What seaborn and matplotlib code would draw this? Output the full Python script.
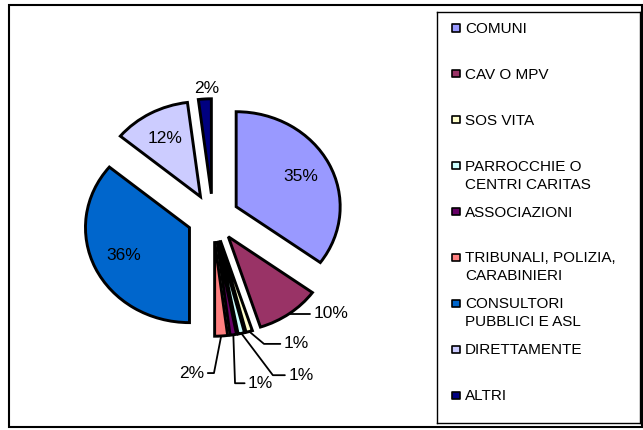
import numpy as np
import matplotlib
matplotlib.use('Agg')
import matplotlib.pyplot as plt
from matplotlib.patches import Rectangle
import seaborn as sns

# dati
categorie = ['COMUNI', 'CAV O MPV', 'SOS VITA', 'PARROCCHIE O\nCENTRI CARITAS', 'ASSOCIAZIONI',
             'TRIBUNALI, POLIZIA,\nCARABINIERI', 'CONSULTORI\nPUBBLICI E ASL', 'DIRETTAMENTE', 'ALTRI']
percentuali = [35, 10, 1, 1, 1, 2, 36, 12, 2]
colori = ['#9999FF', '#993366', '#FFFFCC', '#CCFFFF', '#660066',
          '#FF8080', '#0066CC', '#CCCCFF', '#000080']

sns.set_theme(style='white')
plt.rcParams['font.family'] = ['Liberation Sans', 'DejaVu Sans']
palette = sns.color_palette(colori)

W, H = 643, 430
fig = plt.figure(figsize=(W / 100, H / 100), dpi=100)

# cornice esterna
fig.patches.append(Rectangle((9 / W, 3 / H), 633 / W, 422 / H, transform=fig.transFigure,
                             fill=False, edgecolor='black', linewidth=1.5))

# torta esplosa
ax = fig.add_axes([5 / W, 3.5 / H, 416 / W, 418 / H])
wedges, _ = ax.pie(percentuali, colors=palette, startangle=90, counterclock=False,
                   explode=[0.25] * len(percentuali),
                   wedgeprops=dict(edgecolor='black', linewidth=2.1))
ax.set_aspect('auto')
ax.set_xlim(-2, 2)
ax.set_ylim(-2.2, 2.2)
ax.axis('off')

# etichette: interne per le fette grandi, esterne (con linea guida) per le altre
interni = [0, 6, 7]
# indice: (dx, dy, allineamento, angolo linea guida)
esterni = {
    1: (0.23, 0.0, 'left', -30),
    2: (0.33, -0.13, 'left', -40),
    3: (0.45, -0.44, 'left', -53),
    4: (0.14, -0.51, 'left', -88),
    5: (-0.16, -0.39, 'right', -101),
    8: (0.02, 0.11, 'center', None),
}
fs = 12.5
for i, w in enumerate(wedges):
    m = np.deg2rad((w.theta1 + w.theta2) / 2)
    cx, cy = w.center
    testo = f'{percentuali[i]}%'
    if i in interni:
        ax.text(cx + 0.7 * np.cos(m), cy + 0.7 * np.sin(m), testo,
                ha='center', va='center', fontsize=fs, color='black')
        continue
    dx, dy, ha, ang = esterni[i]
    bordo = (cx + w.r * np.cos(m), cy + w.r * np.sin(m))
    pos = (bordo[0] + dx, bordo[1] + dy)
    if ang is None:
        ax.text(pos[0], pos[1], testo, ha=ha, va='center', fontsize=fs, color='black')
    else:
        ax.annotate(testo, xy=bordo, xytext=pos, ha=ha, va='center', fontsize=fs, color='black',
                    arrowprops=dict(arrowstyle='-', color='black', lw=1.3, shrinkA=0, shrinkB=0,
                                    connectionstyle=f'angle,angleA=0,angleB={ang},rad=0'))

# legenda
lax = fig.add_axes([437 / W, 7 / H, 203 / W, 411 / H])
lax.set_xlim(0, 203)
lax.set_ylim(411, 0)
lax.set_xticks([])
lax.set_yticks([])
for s in lax.spines.values():
    s.set_color('black')
    s.set_linewidth(1)
y = 16 + 45.9 * np.arange(len(categorie))
lax.scatter(np.full(len(y), 19), y, marker='s', s=26, c=palette, edgecolors='black', linewidths=1.2)
for yi, cat in zip(y, categorie):
    for k, riga in enumerate(cat.split('\n')):
        lax.text(28, yi + 5 + 18 * k, riga, fontsize=11, va='baseline', ha='left', color='black')

fig.savefig('out.png', dpi=100)
